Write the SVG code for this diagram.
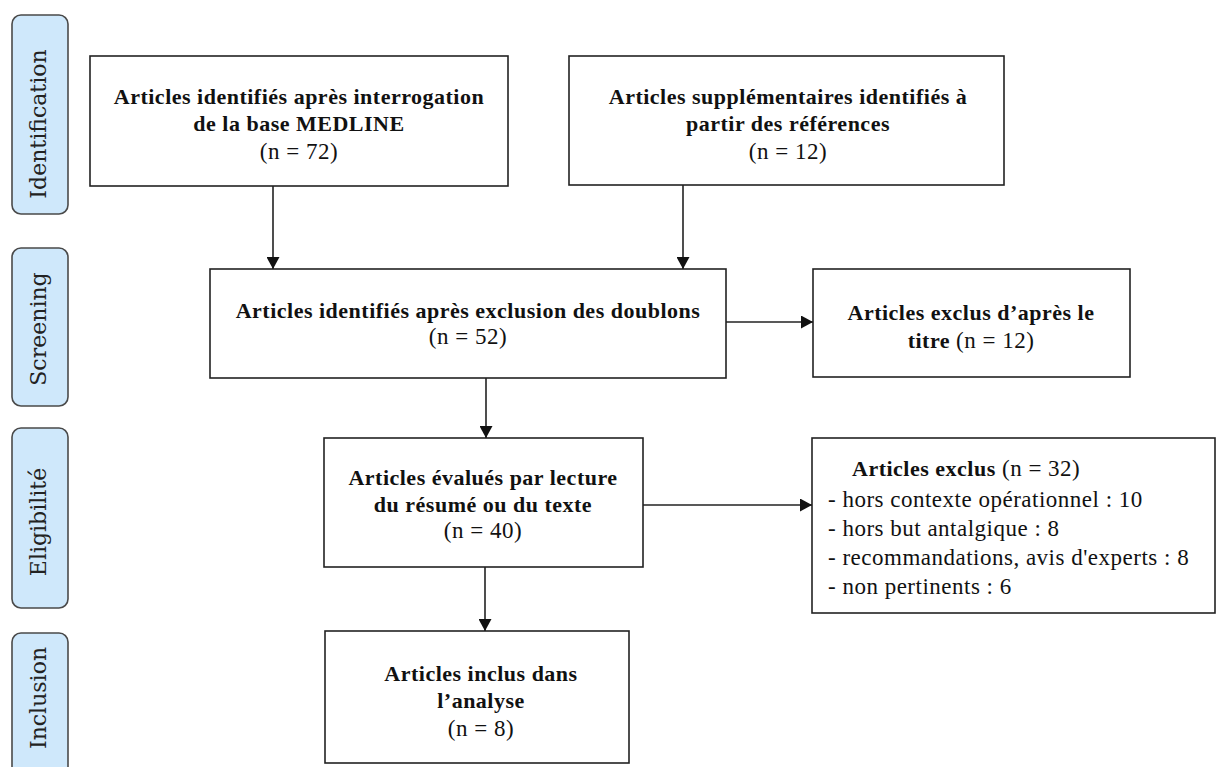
<svg xmlns="http://www.w3.org/2000/svg" width="1217" height="767" viewBox="0 0 1217 767">
<defs>
<style>
.stage rect{fill:#cfe8fb;stroke:#4a4a4a;stroke-width:1.6}
.stage text{font-family:"DejaVu Serif","Liberation Serif",serif;font-size:22px;fill:#222;text-anchor:middle}
.box{fill:#fff;stroke:#222;stroke-width:1.6}
.b{font-family:"Liberation Serif",serif;font-size:22px;font-weight:bold;letter-spacing:0.5px;fill:#111;text-anchor:middle}
.r{font-family:"Liberation Serif",serif;font-size:23px;letter-spacing:0.5px;fill:#111;text-anchor:middle}
.l{font-family:"Liberation Serif",serif;font-size:23px;letter-spacing:0.5px;fill:#111}
.conn line{stroke:#222;stroke-width:1.6}
</style>
<marker id="ah" markerWidth="12" markerHeight="13" refX="12" refY="6.5" orient="auto" markerUnits="userSpaceOnUse">
<path d="M0,0 L12,6.5 L0,13 Z" fill="#111"/>
</marker>
</defs>
<rect width="1217" height="767" fill="#fff"/>

<g id="stage-identification" class="stage">
<rect x="12" y="15" width="56" height="199" rx="9"/>
<text transform="translate(46,124) rotate(-90)">Identification</text>
</g>
<g id="stage-screening" class="stage">
<rect x="12" y="248" width="56" height="158" rx="9"/>
<text transform="translate(46,329) rotate(-90)">Screening</text>
</g>
<g id="stage-eligibilite" class="stage">
<rect x="12" y="428" width="56" height="180" rx="9"/>
<text transform="translate(46,522) rotate(-90)">Eligibilité</text>
</g>
<g id="stage-inclusion" class="stage">
<rect x="12" y="633" width="56" height="150" rx="9"/>
<text transform="translate(46,698) rotate(-90)">Inclusion</text>
</g>

<g id="n-medline">
<rect class="box" x="90" y="56" width="418" height="130"/>
<text class="b" x="299" y="104">Articles identifiés après interrogation</text>
<text class="b" x="299" y="131">de la base MEDLINE</text>
<text class="r" x="299" y="159">(n = 72)</text>
</g>
<g id="n-references">
<rect class="box" x="569" y="56" width="435" height="129"/>
<text class="b" x="788" y="104" letter-spacing="1px">Articles supplémentaires identifiés à</text>
<text class="b" x="788" y="131" letter-spacing="1px">partir des références</text>
<text class="r" x="788" y="159">(n = 12)</text>
</g>
<g id="n-doublons">
<rect class="box" x="210" y="269" width="516" height="109"/>
<text class="b" x="468" y="318">Articles identifiés après exclusion des doublons</text>
<text class="r" x="468" y="344">(n = 52)</text>
</g>
<g id="n-exclus-titre">
<rect class="box" x="813" y="269" width="317" height="108"/>
<text class="b" x="971" y="320">Articles exclus d’après le</text>
<text class="b" x="971" y="348">titre <tspan font-weight="normal" font-size="23px">(n = 12)</tspan></text>
</g>
<g id="n-evalues">
<rect class="box" x="324" y="438" width="319" height="129"/>
<text class="b" x="483" y="485">Articles évalués par lecture</text>
<text class="b" x="483" y="512">du résumé ou du texte</text>
<text class="r" x="483" y="538">(n = 40)</text>
</g>
<g id="n-exclus-32">
<rect class="box" x="812" y="438" width="403" height="175"/>
<text class="l" x="852" y="476"><tspan font-weight="bold" font-size="22px">Articles exclus</tspan> (n = 32)</text>
<text class="l" x="828" y="507">- hors contexte opérationnel : 10</text>
<text class="l" x="828" y="536">- hors but antalgique : 8</text>
<text class="l" x="828" y="565">- recommandations, avis d'experts : 8</text>
<text class="l" x="828" y="594">- non pertinents : 6</text>
</g>
<g id="n-inclus">
<rect class="box" x="325" y="631" width="304" height="132"/>
<text class="b" x="481" y="681">Articles inclus dans</text>
<text class="b" x="481" y="708">l’analyse</text>
<text class="r" x="481" y="736">(n  = 8)</text>
</g>

<g id="connectors" class="conn">
<line x1="273" y1="186" x2="273" y2="269" marker-end="url(#ah)"/>
<line x1="683" y1="185" x2="683" y2="269" marker-end="url(#ah)"/>
<line x1="486" y1="378" x2="486" y2="438" marker-end="url(#ah)"/>
<line x1="726" y1="322" x2="813" y2="322" marker-end="url(#ah)"/>
<line x1="643" y1="505" x2="812" y2="505" marker-end="url(#ah)"/>
<line x1="485" y1="567" x2="485" y2="631" marker-end="url(#ah)"/>
</g>
</svg>
